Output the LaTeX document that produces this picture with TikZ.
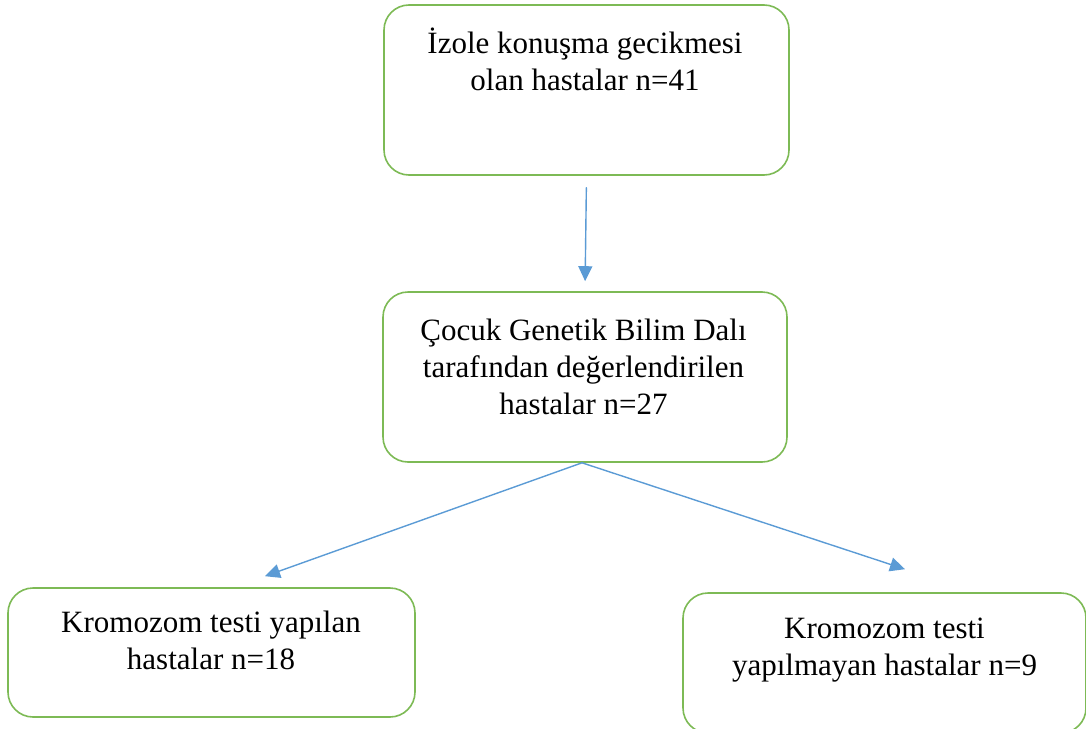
\documentclass[tikz,border=0pt]{standalone}
\usepackage{fontspec}
\setmainfont{Liberation Serif}
\usepackage{tikz}
\usetikzlibrary{arrows, arrows.meta, calc}
\definecolor{boxgreen}{RGB}{125,186,85}
\definecolor{arrowblue}{RGB}{91,155,213}

\begin{document}
\begin{tikzpicture}[line cap=round,line join=round,>={Triangle[length=15pt,width=14pt]},x=1pt,y=-1pt,
        frame/.style={draw=boxgreen,line width=1.6pt,rounded corners=25pt},
        txt/.style={align=center,inner sep=0pt,font=\fontsize{31}{37}\selectfont},
        link/.style={->,draw=arrowblue,line width=1.4pt}]
        \useasboundingbox (0,0) rectangle (1086,728);
        % kutular
        \node [frame,minimum width=405pt,minimum height=170pt] (izole) at (586.5,90) {};
        \node [frame,minimum width=404pt,minimum height=170pt] (genetik) at (585,377) {};
        \node [frame,minimum width=407pt,minimum height=129pt] (yapilan) at (211.5,652.5) {};
        \node [frame,minimum width=403pt,minimum height=140pt] (yapilmayan) at (884.5,663) {};
        % yazilar
        \node [txt] (izoleYazi) at (585,59) {İzole konuşma gecikmesi\\olan hastalar n=41};
        \node [txt] (genetikYazi) at (583.5,366.5) {Çocuk Genetik Bilim Dalı\\tarafından değerlendirilen\\hastalar n=27};
        \node [txt] (yapilanYazi) at (211,640.5) {Kromozom testi yapılan\\hastalar n=18};
        \node [txt] (yapilmayanYazi) at (884.5,650.5) {Kromozom testi\\yapılmayan hastalar n=9};
        % oklar
        \draw [link,shorten <=12pt,shorten >=10pt] (izole.south) -- (genetik.north);
        \draw [link] ([xshift=-3pt]genetik.south) -- ([xshift=53.5pt,yshift=11pt]yapilan.north);
        \draw [link] ([xshift=-3pt]genetik.south) -- ([xshift=20.5pt,yshift=23pt]yapilmayan.north);
\end{tikzpicture}
\end{document}
